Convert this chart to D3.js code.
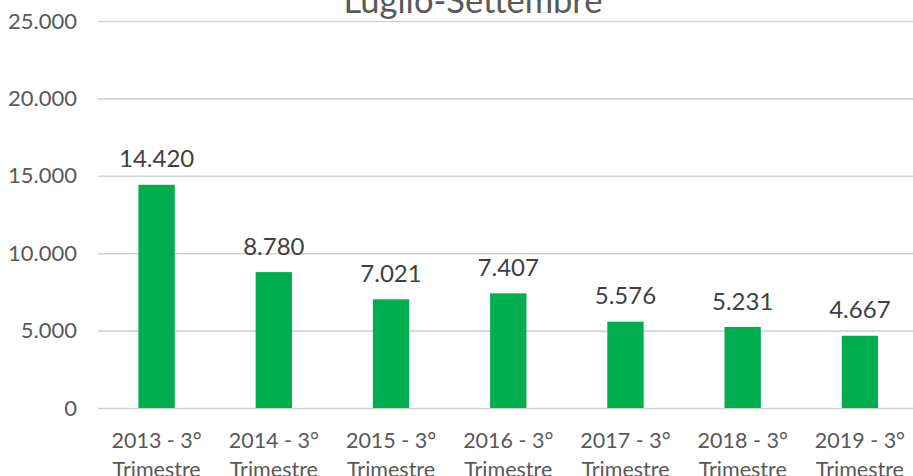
<!DOCTYPE html>
<html><head><meta charset="utf-8">
<script src="https://cdn.jsdelivr.net/npm/d3@7"></script>
<style>body{margin:0;background:#fff}svg{display:block}</style>
</head><body>
<script>
const title = "Luglio-Settembre";
const categories = ["2013 - 3° Trimestre","2014 - 3° Trimestre","2015 - 3° Trimestre","2016 - 3° Trimestre","2017 - 3° Trimestre","2018 - 3° Trimestre","2019 - 3° Trimestre"];
const values = [14420, 8780, 7021, 7407, 5576, 5231, 4667];
const yTicks = [0, 5000, 10000, 15000, 20000, 25000];

const W = 913, H = 476;
const font = "Lato, 'Open Sans', sans-serif";
const fmt = v => d3.format(",")(v).replace(/,/g, ".");
const svg = d3.select("body").append("svg").attr("width", W).attr("height", H);

const m = {left: 98, right: 918.5, top: 21, bottom: 408};
const x = d3.scaleBand().domain(categories).range([m.left, m.right]).paddingInner(0.69).paddingOuter(0.345);
const y = d3.scaleLinear().domain([0, 25000]).range([m.bottom, m.top]);

svg.append("text").attr("x", 473).attr("y", 13).attr("text-anchor", "middle")
  .attr("font-family", font).attr("font-size", 34.5).attr("fill", "#595959").text(title);

const yAxis = svg.append("g").attr("transform", `translate(${m.left},0)`)
  .call(d3.axisLeft(y).tickValues(yTicks).tickFormat(fmt).tickSize(-(W - m.left)).tickPadding(21));
yAxis.select(".domain").remove();
yAxis.selectAll("line").attr("stroke", "#d4d4d4").attr("stroke-width", 1.6);
yAxis.selectAll("text").attr("font-family", font).attr("font-size", 22).attr("fill", "#595959");

svg.selectAll("rect.bar").data(values).join("rect").attr("class", "bar")
  .attr("x", (d, i) => x(categories[i])).attr("width", x.bandwidth())
  .attr("y", d => y(d)).attr("height", d => y(0) - y(d)).attr("fill", "#00ad4f");

svg.selectAll("text.lbl").data(values).join("text").attr("class", "lbl")
  .attr("x", (d, i) => x(categories[i]) + x.bandwidth() / 2).attr("y", d => y(d) - 17.5)
  .attr("text-anchor", "middle").attr("font-family", font).attr("font-size", 24).attr("fill", "#404040")
  .text(fmt);

const xAxis = svg.append("g").attr("transform", `translate(0,${m.bottom})`)
  .call(d3.axisBottom(x).tickSize(0).tickFormat(() => ""));
xAxis.select(".domain").remove();
xAxis.selectAll(".tick").each(function(d) {
  const parts = d.split(" Trimestre");
  const t = d3.select(this).append("text").attr("font-family", font).attr("font-size", 21.5)
    .attr("fill", "#595959").attr("text-anchor", "middle");
  t.append("tspan").attr("x", 0).attr("y", 40).text(parts[0]);
  t.append("tspan").attr("x", 0).attr("y", 69).text("Trimestre");
});
</script>
</body></html>
